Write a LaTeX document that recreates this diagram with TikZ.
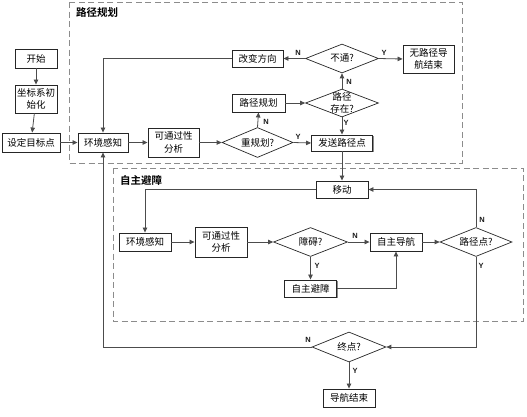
\documentclass[tikz,border=0pt]{standalone}
\usepackage{fontspec}
\setmainfont{Noto Sans CJK SC}[BoldFont={Noto Sans CJK SC Bold}]
\newfontfamily\ynfont{Liberation Sans}
\usepackage{tikz}
\usetikzlibrary{arrows.meta, shapes.geometric, shadows}

\begin{document}
\begin{tikzpicture}[x=1pt, y=-1pt, >={Triangle[length=5pt, width=4.5pt]},
        font=\fontsize{9.5}{12.5}\selectfont,
        proc/.style={draw=black!85, line width=0.9pt, fill=white, align=center, inner sep=0pt,
            drop shadow={shadow xshift=1.3pt, shadow yshift=-1.3pt, fill=black!45, opacity=1}},
        dec/.style={diamond, draw=black!85, line width=0.7pt, aspect=2.5, inner sep=0pt, fill=white,
            align=center, minimum width=73pt, minimum height=29pt},
        flow/.style={->, draw=black!70, line width=0.8pt},
        yn/.style={font=\ynfont\bfseries\fontsize{7.5}{8}\selectfont, text=black!90, inner sep=0pt},
        group/.style={draw=black!45, line width=1pt, dash pattern=on 6pt off 3.5pt},
        grouptitle/.style={font=\bfseries\fontsize{10.5}{12}\selectfont, anchor=west, inner sep=0pt}]
        \useasboundingbox (0,0) rectangle (527,416);
        \draw[group] (69,2) rectangle (462,163);
        \draw[group] (113,168) rectangle (523,321);
        \node[grouptitle] (plantitle) at (76,13) {路径规划};
        \node[grouptitle] (avoidtitle) at (120,180) {自主避障};

        \node[proc, minimum width=42pt, minimum height=19pt] (start) at (36,58.5) {开始};
        \node[proc, minimum width=42pt, minimum height=28pt] (init) at (36,99) {坐标系初\\始化};
        \node[proc, minimum width=58pt, minimum height=19pt] (goal) at (31,142.5) {设定目标点};
        \node[proc, minimum width=50pt, minimum height=19pt] (sense1) at (103,142.5) {环境感知};
        \node[proc, minimum width=51pt, minimum height=29pt] (pass1) at (173.5,142.5) {可通过性\\分析};
        \node[dec, minimum width=71pt, minimum height=30pt] (replan) at (257.5,142.5) {重规划?};
        \node[proc, minimum width=53pt, minimum height=18pt] (plan) at (258.5,103) {路径规划};
        \node[proc, minimum width=51pt, minimum height=17pt] (turn) at (257.5,58.5) {改变方向};
        \node[dec] (block) at (342,58.5) {不通?};
        \node[proc, minimum width=51pt, minimum height=28pt] (fail) at (428.5,59) {无路径导\\航结束};
        \node[dec, inner xsep=-8pt, inner ysep=-7pt, minimum height=28pt] (exist) at (342,103) {路径\\存在?};
        \node[proc, minimum width=61pt, minimum height=16pt] (send) at (342,143) {发送路径点};

        \node[proc, minimum width=52pt, minimum height=17pt] (move) at (342,189.5) {移动};
        \node[proc, minimum width=52pt, minimum height=18pt] (sense2) at (145,242) {环境感知};
        \node[proc, minimum width=52pt, minimum height=30pt] (pass2) at (221,242) {可通过性\\分析};
        \node[dec, minimum width=74pt] (obst) at (310.5,242) {障碍?};
        \node[proc, minimum width=52pt, minimum height=18pt] (auto) at (396,242) {自主导航};
        \node[dec, minimum width=72pt] (wp) at (476,242) {路径点?};
        \node[proc, minimum width=52pt, minimum height=17pt] (avoid) at (310.5,288.5) {自主避障};
        \node[dec, minimum width=74pt, minimum height=30pt] (final) at (349,347) {终点?};
        \node[proc, minimum width=52pt, minimum height=18pt] (done) at (349,398) {导航结束};

        \draw[flow] (start) -- (init);
        \draw[flow] (init) -- (goal);
        \draw[flow] (goal) -- (sense1);
        \draw[flow] (sense1) -- (pass1);
        \draw[flow] (pass1) -- (replan);
        \draw[flow] (replan.north) -- (plan.south);
        \draw[flow] (replan.east) -- (send.west);
        \draw[flow] (plan.east) -- (exist.west);
        \draw[flow] (exist.south) -- (send.north);
        \draw[flow] (exist.north) -- (block.south);
        \draw[flow] (block.west) -- (turn.east);
        \draw[flow] (block.east) -- (fail.west);
        \draw[flow] (turn.west) -| (sense1.north);
        \draw[flow] (send.south) -- (move.north);
        \draw[flow] (move.west) -| (sense2.north);
        \draw[flow] (sense2) -- (pass2);
        \draw[flow] (pass2) -- (obst);
        \draw[flow] (obst.south) -- (avoid.north);
        \draw[flow] (obst.east) -- (auto.west);
        \draw[flow] (avoid.east) -| (auto.south);
        \draw[flow] (auto.east) -- (wp.west);
        \draw[flow] (wp.north) |- (move.east);
        \draw[flow] (wp.south) |- (final.east);
        \draw[flow] (final.west) -| (sense1.south);
        \draw[flow] (final.south) -- (done.north);

        \node[yn] (replanN) at (266,122) {N};
        \node[yn] (replanY) at (298,137) {Y};
        \node[yn] (existN) at (349,82) {N};
        \node[yn] (existY) at (346,123) {Y};
        \node[yn] (blockN) at (298,53) {N};
        \node[yn] (blockY) at (384,53) {Y};
        \node[yn] (obstN) at (355,236) {N};
        \node[yn] (obstY) at (317,266) {Y};
        \node[yn] (wpN) at (482,220) {N};
        \node[yn] (wpY) at (481,266) {Y};
        \node[yn] (finalN) at (308,340) {N};
        \node[yn] (finalY) at (355,371) {Y};
    \end{tikzpicture}
\end{document}
